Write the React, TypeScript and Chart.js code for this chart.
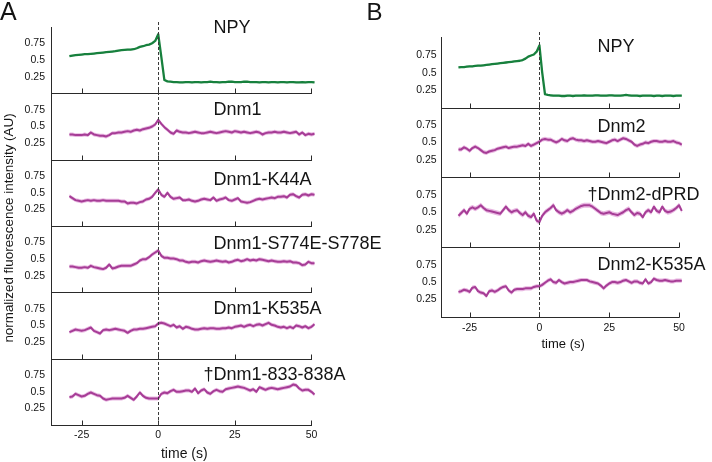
import { useEffect, useRef } from 'react';
import { Chart, registerables } from 'chart.js';

Chart.register(...registerables);

// ---------------- data ----------------
const TIME = [
  -29, -28, -27, -26, -25, -24, -23, -22, -21, -20,
  -19, -18, -17, -16, -15, -14, -13, -12, -11, -10,
  -9, -8, -7, -6, -5, -4, -3, -2, -1, 0,
  1, 2, 3, 4, 5, 6, 7, 8, 9, 10,
  11, 12, 13, 14, 15, 16, 17, 18, 19, 20,
  21, 22, 23, 24, 25, 26, 27, 28, 29, 30,
  31, 32, 33, 34, 35, 36, 37, 38, 39, 40,
  41, 42, 43, 44, 45, 46, 47, 48, 49, 50, 51,
];

const X_TICKS = [-25, 0, 25, 50];
const Y_TICKS = [0.25, 0.5, 0.75];

const NPY_A = [
  0.56, 0.57, 0.575, 0.58, 0.585, 0.59, 0.59, 0.595, 0.6, 0.605,
  0.61, 0.615, 0.62, 0.625, 0.63, 0.635, 0.645, 0.65, 0.655, 0.66,
  0.66, 0.665, 0.68, 0.7, 0.71, 0.725, 0.735, 0.755, 0.79, 0.89,
  0.55, 0.2, 0.18, 0.175, 0.17, 0.17, 0.165, 0.165, 0.17, 0.17,
  0.165, 0.17, 0.17, 0.165, 0.17, 0.17, 0.175, 0.17, 0.17, 0.165,
  0.17, 0.17, 0.175, 0.175, 0.17, 0.17, 0.17, 0.175, 0.175, 0.17,
  0.17, 0.17, 0.165, 0.17, 0.17, 0.165, 0.17, 0.17, 0.165, 0.17,
  0.17, 0.165, 0.17, 0.17, 0.165, 0.165, 0.17, 0.165, 0.17, 0.17, 0.165,
];
const DNM1 = [
  0.38, 0.38, 0.37, 0.37, 0.37, 0.38, 0.37, 0.41, 0.38, 0.37,
  0.36, 0.36, 0.35, 0.37, 0.4, 0.4, 0.41, 0.41, 0.42, 0.43,
  0.42, 0.44, 0.45, 0.44, 0.46, 0.47, 0.48, 0.5, 0.53, 0.6,
  0.54, 0.49, 0.45, 0.41, 0.39, 0.44, 0.42, 0.41, 0.41, 0.4,
  0.41, 0.42, 0.41, 0.4, 0.4, 0.41, 0.42, 0.41, 0.4, 0.41,
  0.42, 0.43, 0.42, 0.41, 0.43, 0.42, 0.41, 0.42, 0.41, 0.4,
  0.41, 0.42, 0.41, 0.38, 0.4, 0.41, 0.41, 0.42, 0.41, 0.41,
  0.42, 0.41, 0.4, 0.41, 0.42, 0.38, 0.41, 0.37, 0.39, 0.38, 0.39,
];
const DNM1_K44A = [
  0.45, 0.42, 0.39, 0.38, 0.37, 0.38, 0.39, 0.38, 0.39, 0.38,
  0.38, 0.39, 0.38, 0.38, 0.38, 0.38, 0.38, 0.37, 0.37, 0.34,
  0.35, 0.35, 0.34, 0.36, 0.37, 0.4, 0.41, 0.44, 0.5, 0.55,
  0.47, 0.44, 0.5, 0.44, 0.41, 0.42, 0.43, 0.39, 0.39, 0.4,
  0.38, 0.37, 0.38, 0.4, 0.41, 0.4, 0.39, 0.43, 0.38, 0.4,
  0.41, 0.43, 0.39, 0.38, 0.4, 0.42, 0.37, 0.36, 0.35, 0.36,
  0.38, 0.4, 0.41, 0.4, 0.41, 0.42, 0.43, 0.42, 0.44, 0.44,
  0.45, 0.43, 0.47, 0.48, 0.45, 0.43, 0.47, 0.48, 0.46, 0.48, 0.47,
];
const DNM1_S774E_S778E = [
  0.39, 0.39, 0.38, 0.37, 0.37, 0.38, 0.37, 0.4, 0.38, 0.37,
  0.36, 0.35, 0.37, 0.42, 0.36, 0.37, 0.39, 0.4, 0.4, 0.4,
  0.4, 0.42, 0.44, 0.48, 0.5, 0.5, 0.53, 0.57, 0.6, 0.63,
  0.55, 0.52, 0.52, 0.51, 0.51, 0.5, 0.48, 0.48, 0.46, 0.45,
  0.46, 0.46, 0.45, 0.47, 0.48, 0.47, 0.46, 0.47, 0.48, 0.47,
  0.46, 0.47, 0.45, 0.46, 0.48, 0.49, 0.47, 0.48, 0.5, 0.48,
  0.49, 0.48, 0.5, 0.49, 0.48, 0.47, 0.48, 0.47, 0.46, 0.46,
  0.47, 0.46, 0.47, 0.45, 0.45, 0.44, 0.41, 0.42, 0.46, 0.44, 0.44,
];
const DNM1_K535A = [
  0.4, 0.42, 0.44, 0.43, 0.42, 0.43, 0.45, 0.47, 0.42, 0.4,
  0.38, 0.43, 0.44, 0.43, 0.44, 0.45, 0.44, 0.43, 0.42, 0.39,
  0.42, 0.44, 0.44, 0.45, 0.45, 0.46, 0.47, 0.48, 0.49, 0.53,
  0.54, 0.53, 0.51, 0.49, 0.51, 0.47, 0.49, 0.45, 0.48, 0.47,
  0.45, 0.44, 0.44, 0.45, 0.46, 0.45, 0.46, 0.46, 0.45, 0.45,
  0.46, 0.46, 0.47, 0.46, 0.48, 0.49, 0.5, 0.48, 0.5, 0.51,
  0.49, 0.51, 0.52, 0.5, 0.52, 0.54, 0.51, 0.5, 0.48, 0.47,
  0.48, 0.46, 0.48, 0.46, 0.5, 0.49, 0.47, 0.49, 0.46, 0.48, 0.52,
];
const DNM1_833_838A = [
  0.42, 0.43, 0.47, 0.45, 0.43, 0.44, 0.47, 0.49, 0.47, 0.45,
  0.44, 0.4, 0.38, 0.39, 0.4, 0.4, 0.4, 0.4, 0.41, 0.44,
  0.41, 0.38, 0.43, 0.49, 0.44, 0.41, 0.4, 0.4, 0.4, 0.4,
  0.47, 0.49, 0.48, 0.51, 0.53, 0.5, 0.5, 0.51, 0.52, 0.52,
  0.5, 0.55, 0.48, 0.52, 0.54, 0.49, 0.47, 0.51, 0.53, 0.51,
  0.5, 0.54, 0.55, 0.56, 0.57, 0.58, 0.57, 0.56, 0.54, 0.52,
  0.54, 0.5, 0.57, 0.55, 0.53, 0.55, 0.56, 0.55, 0.54, 0.55,
  0.56, 0.57, 0.58, 0.61, 0.6, 0.55, 0.52, 0.53, 0.53, 0.5, 0.46,
];
const NPY_B = [
  0.575, 0.58, 0.58, 0.585, 0.59, 0.59, 0.595, 0.6, 0.6, 0.605,
  0.61, 0.615, 0.62, 0.625, 0.63, 0.635, 0.64, 0.645, 0.65, 0.655,
  0.66, 0.665, 0.67, 0.68, 0.7, 0.73, 0.745, 0.76, 0.8, 0.89,
  0.5, 0.19, 0.18, 0.175, 0.17, 0.17, 0.17, 0.165, 0.165, 0.17,
  0.17, 0.165, 0.17, 0.17, 0.17, 0.175, 0.17, 0.17, 0.17, 0.175,
  0.175, 0.17, 0.17, 0.17, 0.175, 0.175, 0.17, 0.17, 0.17, 0.175,
  0.18, 0.175, 0.17, 0.17, 0.17, 0.165, 0.17, 0.17, 0.17, 0.17,
  0.165, 0.17, 0.17, 0.165, 0.17, 0.17, 0.17, 0.165, 0.17, 0.17, 0.17,
];
const DNM2 = [
  0.4, 0.4, 0.43, 0.41, 0.38, 0.42, 0.44, 0.42, 0.39, 0.36,
  0.35, 0.37, 0.38, 0.39, 0.41, 0.42, 0.43, 0.44, 0.42, 0.43,
  0.44, 0.44, 0.45, 0.46, 0.45, 0.48, 0.45, 0.47, 0.49, 0.51,
  0.54, 0.55, 0.54, 0.54, 0.52, 0.5, 0.52, 0.55, 0.53, 0.52,
  0.55, 0.56, 0.54, 0.53, 0.53, 0.52, 0.53, 0.52, 0.51, 0.51,
  0.52, 0.51, 0.5, 0.49, 0.51, 0.53, 0.54, 0.52, 0.54, 0.56,
  0.55, 0.53, 0.51, 0.47, 0.45, 0.47, 0.48, 0.5, 0.49, 0.51,
  0.52, 0.52, 0.51, 0.51, 0.52, 0.51, 0.51, 0.52, 0.5, 0.49, 0.47,
];
const DNM2_DPRD = [
  0.45, 0.49, 0.53, 0.48, 0.55, 0.57, 0.55, 0.57, 0.6, 0.56,
  0.53, 0.52, 0.51, 0.5, 0.49, 0.48, 0.53, 0.58, 0.53, 0.5,
  0.52, 0.53, 0.49, 0.46, 0.5, 0.45, 0.43, 0.48, 0.38, 0.36,
  0.45, 0.5, 0.53, 0.56, 0.6, 0.53, 0.5, 0.48, 0.5, 0.53,
  0.5, 0.52, 0.55, 0.57, 0.59, 0.6, 0.6, 0.6, 0.58, 0.55,
  0.52, 0.49, 0.48, 0.49, 0.5, 0.48, 0.47, 0.46, 0.48, 0.5,
  0.53, 0.55, 0.5, 0.46, 0.49, 0.48, 0.43, 0.5, 0.53, 0.5,
  0.58, 0.52, 0.5, 0.58, 0.52, 0.5, 0.51, 0.53, 0.56, 0.6, 0.52,
];
const DNM2_K535A = [
  0.36, 0.37, 0.39, 0.38, 0.36, 0.42, 0.43, 0.37, 0.35, 0.34,
  0.3, 0.37, 0.38, 0.36, 0.38, 0.41, 0.43, 0.44, 0.38, 0.35,
  0.39, 0.4, 0.4, 0.4, 0.41, 0.41, 0.41, 0.43, 0.44, 0.44,
  0.46, 0.49, 0.52, 0.54, 0.5, 0.49, 0.53, 0.5, 0.48, 0.49,
  0.5, 0.5, 0.51, 0.52, 0.53, 0.53, 0.53, 0.51, 0.5, 0.49,
  0.48, 0.45, 0.41, 0.45, 0.48, 0.5, 0.5, 0.49, 0.5, 0.52,
  0.53, 0.51, 0.49, 0.51, 0.51, 0.49, 0.48, 0.54, 0.48, 0.5,
  0.55, 0.53, 0.52, 0.52, 0.53, 0.52, 0.51, 0.51, 0.52, 0.52, 0.52,
];

// half-width of the shaded error band for each trace
const SEM_A = [0.012, 0.03, 0.03, 0.03, 0.03, 0.03];
const SEM_B = [0.012, 0.03, 0.035, 0.03];

const NAMES_A = ['NPY', 'Dnm1', 'Dnm1-K44A', 'Dnm1-S774E-S778E', 'Dnm1-K535A', '†Dnm1-833-838A'];
const NAMES_B = ['NPY', 'Dnm2', '†Dnm2-dPRD', 'Dnm2-K535A'];
const SERIES_A = [NPY_A, DNM1, DNM1_K44A, DNM1_S774E_S778E, DNM1_K535A, DNM1_833_838A];
const SERIES_B = [NPY_B, DNM2, DNM2_DPRD, DNM2_K535A];

const X_TITLE = 'time (s)';
const Y_TITLE = 'normalized fluorescence intensity (AU)';

// ---------------- style ----------------
const FONT = '"Liberation Sans", Arial, Helvetica, sans-serif';
const GREEN = '#17803d';
const GREEN_BAND = 'rgba(120,190,140,0.45)';
const PINK = '#a63d96';
const PINK_BAND = 'rgba(228,170,220,0.85)';
const AXIS = '#2a2a2a';
const TEXT = '#141414';

interface PanelSpec {
  letter: string;
  letterX: number;
  letterSize: number;
  names: string[];
  series: number[][];
  sem: number[];
  left: number;
  width: number;
  height: number;
  yWidth: number;
  padTop: number;
  padRight: number;
  xHeight: number;
  labelX: number;
  labelOffsets: number[];
  tickPad: number;
  yTickPad: number;
  titleSize: number;
  titlePadBottom: number;
  dashTop: number;
  yTitle: boolean;
}

const PANEL_A: PanelSpec = {
  letter: 'A', letterX: 0, letterSize: 25,
  names: NAMES_A, series: SERIES_A, sem: SEM_A,
  left: 0, width: 400, height: 462,
  yWidth: 51, padTop: 27, padRight: 82.4, xHeight: 37,
  labelX: 213.5, labelOffsets: [60.3, 45, 40.7, 43.3, 45, 45.3],
  tickPad: 4, yTickPad: 6, titleSize: 14, titlePadBottom: -1,
  dashTop: 22, yTitle: true,
};

const PANEL_B: PanelSpec = {
  letter: 'B', letterX: 6.5, letterSize: 24,
  names: NAMES_B, series: SERIES_B, sem: SEM_B,
  left: 360, width: 352, height: 352,
  yWidth: 81.7, padTop: 37.7, padRight: 27.4, xHeight: 35,
  labelX: 237.5, labelOffsets: [55.7, 44.9, 46.9, 47],
  tickPad: 5, yTickPad: 5, titleSize: 13, titlePadBottom: 0,
  dashTop: 32, yTitle: false,
};

function buildConfig(p: PanelSpec): any {
  const n = p.series.length;
  const datasets: any[] = [];
  const scales: any = {
    x: {
      type: 'linear',
      min: -35,
      max: 52,
      afterBuildTicks: (s: any) => { s.ticks = X_TICKS.map((v) => ({ value: v })); },
      afterFit: (s: any) => { s.height = p.xHeight; },
      grid: { display: false, drawTicks: false },
      border: { display: false },
      ticks: {
        color: TEXT, font: { family: FONT, size: 10.5 }, padding: p.tickPad,
        maxRotation: 0, autoSkip: false, callback: (v: any) => String(v),
      },
      title: {
        display: true, text: X_TITLE, color: TEXT,
        font: { family: FONT, size: p.titleSize }, padding: { top: 0, bottom: p.titlePadBottom },
      },
    },
  };

  p.series.forEach((vals, i) => {
    const id = 'y' + i;
    const line = i === 0 ? GREEN : PINK;
    const band = i === 0 ? GREEN_BAND : PINK_BAND;
    datasets.push({
      data: TIME.map((t, k) => ({ x: t, y: vals[k] + p.sem[i] })),
      yAxisID: id, borderWidth: 0, borderColor: 'rgba(0,0,0,0)', pointRadius: 0,
      backgroundColor: band, fill: '+1', order: 2,
    });
    datasets.push({
      data: TIME.map((t, k) => ({ x: t, y: vals[k] - p.sem[i] })),
      yAxisID: id, borderWidth: 0, borderColor: 'rgba(0,0,0,0)', pointRadius: 0, fill: false, order: 2,
    });
    datasets.push({
      data: TIME.map((t, k) => ({ x: t, y: vals[k] })),
      yAxisID: id, borderColor: line, borderWidth: i === 0 ? 2.3 : 2, pointRadius: 0, fill: false,
      borderJoinStyle: 'round', order: 1,
    });
    scales[id] = {
      type: 'linear', position: 'left', stack: 'rows', stackWeight: 1, weight: n - i,
      min: 0, max: 1,
      afterBuildTicks: (s: any) => { s.ticks = Y_TICKS.map((v) => ({ value: v })); },
      afterFit: (s: any) => { s.width = p.yWidth; },
      grid: { display: false, drawTicks: false },
      border: { display: true, color: AXIS, width: 1 },
      ticks: {
        color: TEXT, font: { family: FONT, size: 10.5 }, padding: p.yTickPad,
        callback: (v: any) => String(v),
      },
    };
  });

  const decor = {
    id: 'decor',
    afterDatasetsDraw(chart: any) {
      const ctx = chart.ctx as CanvasRenderingContext2D;
      const xs = chart.scales.x;
      const area = chart.chartArea;
      const x50 = xs.getPixelForValue(50);
      ctx.save();
      ctx.strokeStyle = AXIS;
      ctx.lineWidth = 1;
      for (let i = 0; i < n; i++) {
        const ys = chart.scales['y' + i];
        const yb = Math.round(ys.bottom) + 0.5;
        ctx.beginPath();
        ctx.moveTo(area.left, yb);
        ctx.lineTo(x50 + 0.5, yb);
        ctx.stroke();
        X_TICKS.forEach((v) => {
          const px = Math.round(xs.getPixelForValue(v)) + 0.5;
          ctx.beginPath();
          ctx.moveTo(px, yb);
          ctx.lineTo(px, yb - 5);
          ctx.stroke();
        });
      }
      // dashed marker at t = 0
      const x0 = Math.round(xs.getPixelForValue(0)) + 0.5;
      ctx.strokeStyle = '#3a3a3a';
      ctx.setLineDash([3, 2]);
      ctx.beginPath();
      ctx.moveTo(x0, p.dashTop);
      ctx.lineTo(x0, area.bottom);
      ctx.stroke();
      ctx.setLineDash([]);

      // subplot names
      ctx.fillStyle = TEXT;
      ctx.font = `18px ${FONT}`;
      ctx.textAlign = 'left';
      ctx.textBaseline = 'alphabetic';
      p.names.forEach((name, i) => {
        const ys = chart.scales['y' + i];
        let x = p.labelX;
        if (name.startsWith('†')) x -= ctx.measureText('†').width;
        ctx.fillText(name, x, ys.bottom - p.labelOffsets[i]);
      });

      // panel letter
      ctx.font = `${p.letterSize}px ${FONT}`;
      ctx.fillText(p.letter, p.letterX, 20);

      if (p.yTitle) {
        ctx.save();
        ctx.translate(9, 228);
        ctx.rotate(-Math.PI / 2);
        ctx.font = `13.4px ${FONT}`;
        ctx.textAlign = 'center';
        ctx.textBaseline = 'middle';
        ctx.fillText(Y_TITLE, 0, 0);
        ctx.restore();
      }
      ctx.restore();
    },
  };

  return {
    type: 'line',
    data: { datasets },
    options: {
      responsive: false,
      animation: false,
      events: [],
      layout: { padding: { left: 0, top: p.padTop, right: p.padRight, bottom: 0 } },
      elements: { line: { tension: 0 } },
      plugins: { legend: { display: false }, tooltip: { enabled: false }, title: { display: false } },
      scales,
    },
    plugins: [decor],
  };
}

function Panel({ spec }: { spec: PanelSpec }) {
  const ref = useRef<HTMLCanvasElement>(null);
  useEffect(() => {
    const chart = new Chart(ref.current as HTMLCanvasElement, buildConfig(spec));
    return () => chart.destroy();
  }, [spec]);
  return (
    <canvas
      ref={ref}
      width={spec.width}
      height={spec.height}
      style={{ position: 'absolute', left: spec.left, top: 0, width: spec.width, height: spec.height }}
    />
  );
}

export default function App() {
  return (
    <div style={{ position: 'fixed', left: 0, top: 0, width: 712, height: 462, background: '#fff', overflow: 'hidden' }}>
      <Panel spec={PANEL_A} />
      <Panel spec={PANEL_B} />
    </div>
  );
}
